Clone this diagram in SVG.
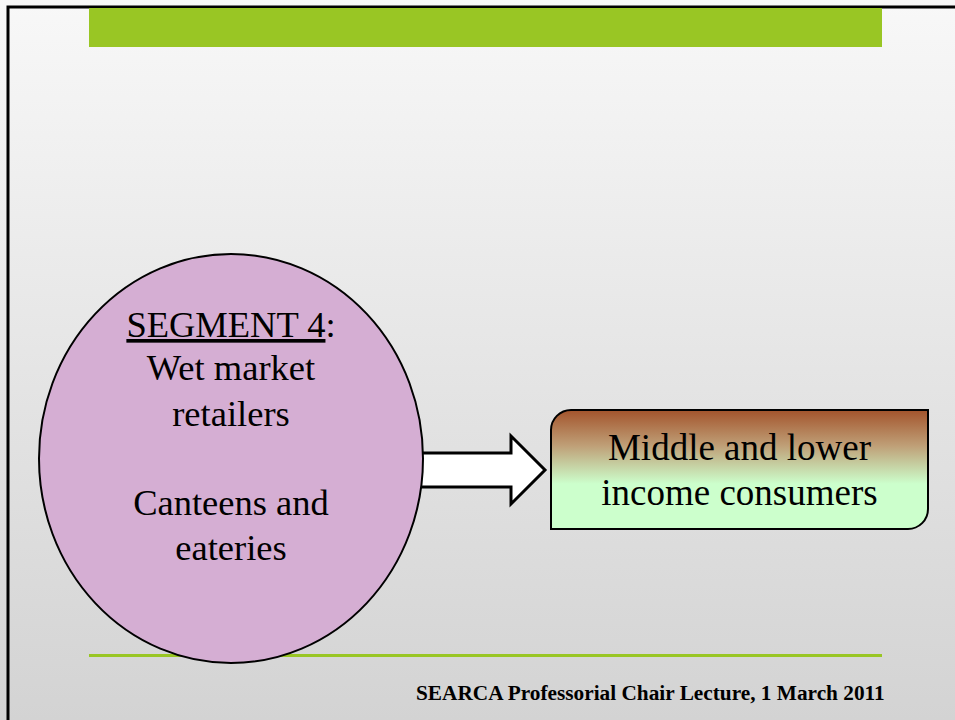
<svg xmlns="http://www.w3.org/2000/svg" width="955" height="720" viewBox="0 0 955 720">
  <defs>
    <linearGradient id="bg" x1="0" y1="0" x2="0" y2="1">
      <stop offset="0" stop-color="#f8f8f8"/>
      <stop offset="1" stop-color="#d3d3d3"/>
    </linearGradient>
    <linearGradient id="boxFill" x1="0" y1="0" x2="0" y2="1">
      <stop offset="0" stop-color="#a3542c"/>
      <stop offset="0.3" stop-color="#bf9f77"/>
      <stop offset="0.62" stop-color="#ccffcc"/>
      <stop offset="1" stop-color="#ccffcc"/>
    </linearGradient>
    <style>
      text { font-family: 'Liberation Serif', 'Times New Roman', serif; fill: #000; }
      .big { font-size: 36.5px; }
      .box { font-size: 37px; }
      .foot { font-size: 21.3px; font-weight: bold; }
    </style>
  </defs>

  <!-- slide background and frame -->
  <rect x="0" y="0" width="955" height="720" fill="url(#bg)"/>
  <rect x="8" y="7" width="960" height="730" fill="none" stroke="#000" stroke-width="3"/>

  <!-- title band and footer rule -->
  <rect x="89" y="8" width="793" height="39" fill="#99c624"/>
  <line x1="89" y1="655.5" x2="882" y2="655.5" stroke="#99c624" stroke-width="3"/>

  <!-- connectors -->
  <g id="connectors">
    <path d="M405,453 L511,453 L511,436 L545,470 L511,504 L511,487 L405,487 Z" fill="#fff" stroke="#000" stroke-width="3" stroke-linejoin="miter"/>
  </g>

  <!-- source segment -->
  <g id="segment4">
    <ellipse cx="231" cy="458.5" rx="192" ry="204.5" fill="#d5aed3" stroke="#000" stroke-width="2"/>
    <text class="big" x="231" y="337" text-anchor="middle"><tspan text-decoration="underline">SEGMENT 4</tspan>:</text>
    <text class="big" x="231" y="380" text-anchor="middle">Wet market</text>
    <text class="big" x="231" y="426" text-anchor="middle">retailers</text>
    <text class="big" x="231" y="515" text-anchor="middle">Canteens and</text>
    <text class="big" x="231" y="560" text-anchor="middle">eateries</text>
  </g>

  <!-- target consumers -->
  <g id="consumers">
    <path d="M571,410 L928,410 L928,509 A20,20 0 0 1 908,529 L551,529 L551,430 A20,20 0 0 1 571,410 Z" fill="url(#boxFill)" stroke="#000" stroke-width="2"/>
    <text class="box" x="739.5" y="460" text-anchor="middle">Middle and lower</text>
    <text class="box" x="739.5" y="505" text-anchor="middle">income consumers</text>
  </g>

  <!-- footer -->
  <text class="foot" x="416" y="700">SEARCA Professorial Chair Lecture, 1 March 2011</text>
</svg>
